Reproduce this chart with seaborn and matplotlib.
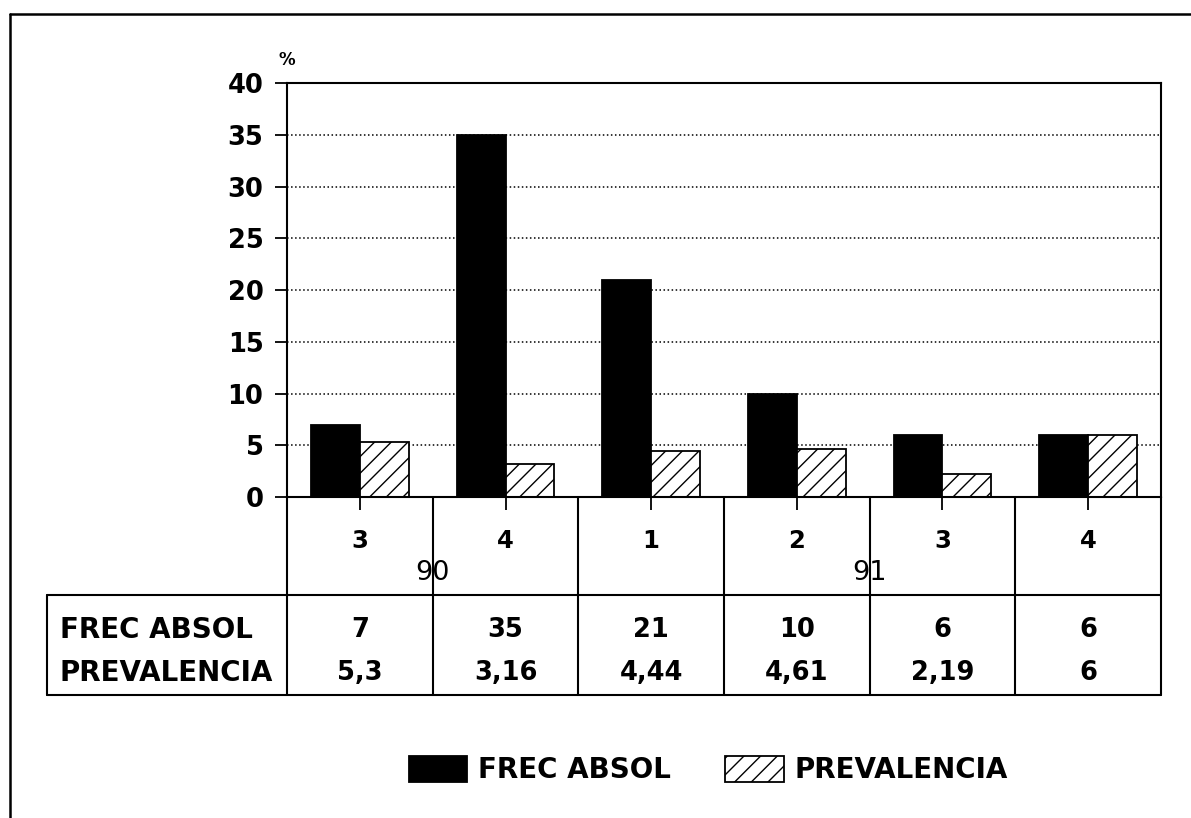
import pandas as pd
import matplotlib.pyplot as plt
import seaborn as sns
from matplotlib.lines import Line2D

# Datos del grafico (trimestres de 1990 y 1991)
periodos = ['90-3', '90-4', '91-1', '91-2', '91-3', '91-4']
trimestres = ['3', '4', '1', '2', '3', '4']
anios = ['90', '91']
series = ['FREC ABSOL', 'PREVALENCIA']
frec_absol = [7, 35, 21, 10, 6, 6]
prevalencia = [5.3, 3.16, 4.44, 4.61, 2.19, 6]
yticks = [0, 5, 10, 15, 20, 25, 30, 35, 40]

df = pd.DataFrame({
    'periodo': periodos * 2,
    'serie': [series[0]] * len(periodos) + [series[1]] * len(periodos),
    'valor': frec_absol + prevalencia,
})

sns.set_style('white')
plt.rcParams['font.family'] = ['DejaVu Sans']
plt.rcParams['text.color'] = 'black'
plt.rcParams['hatch.linewidth'] = 1.0

fig = plt.figure(figsize=(11.91, 8.18), dpi=100)
ax = fig.add_axes([0.241, 0.3924, 0.7338, 0.5061])

sns.barplot(data=df, x='periodo', y='valor', hue='serie', palette=['black', 'white'],
            edgecolor='black', linewidth=1.3, width=0.67, ax=ax, legend=False)
for p in ax.containers[1].patches:
    p.set_hatch('//')

ax.set_ylim(0, 40)
ax.set_xlim(-0.5, len(periodos) - 0.5)
ax.set_yticks(yticks)
ax.set_yticklabels([str(t) for t in yticks], fontsize=18.5, fontweight='bold')
ax.set_xticks(range(len(periodos)))
ax.set_xticklabels(trimestres, fontsize=17.5, fontweight='bold')
ax.set_xlabel('')
ax.set_ylabel('')
ax.tick_params(axis='y', direction='out', length=9, width=1.3, pad=8, left=True, colors='black')
ax.tick_params(axis='x', direction='out', length=9, width=1.3, pad=14, bottom=True, colors='black')
ax.grid(axis='y', linestyle=':', color='black', linewidth=1.1)
ax.set_axisbelow(True)
for s in ax.spines.values():
    s.set_visible(True)
    s.set_color('black')
    s.set_linewidth(1.5)

ax.text(-0.5, 40 + 2.2, '%', ha='center', va='center', fontsize=12, fontweight='bold')

# Tabla debajo del grafico
tr = ax.get_xaxis_transform()
y_sep = -0.2367
y_bot = -0.478
x_lab = -2.15
kw = dict(color='black', linewidth=1.5, transform=tr, clip_on=False)
for i in range(len(periodos) + 1):
    ax.add_line(Line2D([i - 0.5, i - 0.5], [0, y_bot], **kw))
ax.add_line(Line2D([x_lab, len(periodos) - 0.5], [y_sep, y_sep], **kw))
ax.add_line(Line2D([x_lab, len(periodos) - 0.5], [y_bot, y_bot], **kw))
ax.add_line(Line2D([x_lab, x_lab], [y_sep, y_bot], **kw))

for a in anios:
    idx = [i for i, p in enumerate(periodos) if p.startswith(a)]
    ax.text(sum(idx) / len(idx), -0.183, a, transform=tr, ha='center', va='center',
            fontsize=19.5)

ax.text(x_lab + 0.09, -0.321, series[0], transform=tr, ha='left', va='center',
        fontsize=20, fontweight='bold')
ax.text(x_lab + 0.09, -0.425, series[1], transform=tr, ha='left', va='center',
        fontsize=20, fontweight='bold')
for i in range(len(periodos)):
    ax.text(i, -0.321, f'{frec_absol[i]:g}', transform=tr, ha='center', va='center',
            fontsize=18.5, fontweight='bold')
    ax.text(i, -0.425, f'{prevalencia[i]:g}'.replace('.', ','), transform=tr,
            ha='center', va='center', fontsize=18.5, fontweight='bold')

# Marco exterior
fig.add_artist(Line2D([10 / 1191, 1], [1 - 14 / 818, 1 - 14 / 818], color='black', linewidth=1.8))
fig.add_artist(Line2D([10 / 1191, 10 / 1191], [0, 1 - 14 / 818], color='black', linewidth=1.8))

handles = [c.patches[0] for c in ax.containers]
fig.legend(handles, series, loc='center', bbox_to_anchor=(0.595, 0.0587), ncol=2,
           frameon=False, prop={'size': 20, 'weight': 'bold'}, handlelength=2.1,
           handleheight=1.05, handletextpad=0.4, columnspacing=1.95)

plt.savefig('out.png', dpi=100)
